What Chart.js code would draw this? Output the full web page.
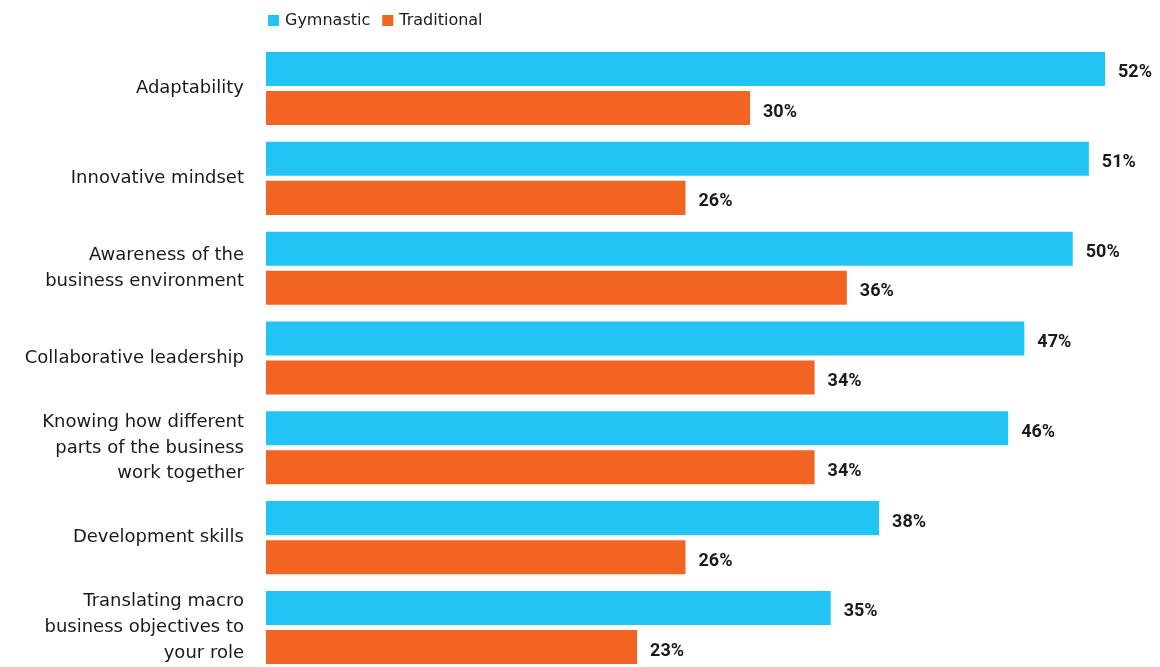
<!DOCTYPE html>
<html>
<head>
<meta charset="utf-8">
<script src="https://cdn.jsdelivr.net/npm/chart.js@4/dist/chart.umd.min.js"></script>
<style>
  html, body { margin: 0; padding: 0; background: #fff; overflow: hidden; }
  #wrap { position: relative; width: 1160px; height: 690px; }
</style>
</head>
<body>
<div id="wrap"><canvas id="skills-chart" width="1160" height="690"></canvas></div>
<script>
const categories = [
  'Adaptability',
  'Innovative mindset',
  ['Awareness of the', 'business environment'],
  'Collaborative leadership',
  ['Knowing how different', 'parts of the business', 'work together'],
  'Development skills',
  ['Translating macro', 'business objectives to', 'your role']
];
const gymnastic = [52, 51, 50, 47, 46, 38, 35];
const traditional = [30, 26, 36, 34, 34, 26, 23];
const seriesNames = ['Gymnastic', 'Traditional'];
const seriesColors = ['#21C4F3', '#F26422'];

// value labels at the end of each bar
const barLabels = {
  id: 'barLabels',
  afterDatasetsDraw(chart) {
    const ctx = chart.ctx;
    ctx.save();
    ctx.font = 'bold 18px Roboto';
    ctx.fillStyle = '#1a1a1a';
    ctx.textAlign = 'left';
    ctx.textBaseline = 'middle';
    chart.data.datasets.forEach((ds, i) => {
      chart.getDatasetMeta(i).data.forEach((bar, j) => {
        ctx.fillText(ds.data[j] + '%', bar.x + 13, bar.y + 4);
      });
    });
    ctx.restore();
  }
};

// small legend above the bars
const topLegend = {
  id: 'topLegend',
  afterDraw(chart) {
    const ctx = chart.ctx;
    let x = chart.chartArea.left + 2;
    ctx.save();
    ctx.font = '16px "DejaVu Sans"';
    ctx.textBaseline = 'middle';
    seriesNames.forEach((name, i) => {
      ctx.fillStyle = seriesColors[i];
      ctx.fillRect(x, 15, 11, 11);
      ctx.fillStyle = '#1a1a1a';
      ctx.fillText(name, x + 17, 21);
      x += 17 + ctx.measureText(name).width + 12;
    });
    ctx.restore();
  }
};

new Chart(document.getElementById('skills-chart'), {
  type: 'bar',
  data: {
    labels: categories,
    datasets: [
      { label: seriesNames[0], data: gymnastic, backgroundColor: seriesColors[0] },
      { label: seriesNames[1], data: traditional, backgroundColor: seriesColors[1] }
    ]
  },
  options: {
    indexAxis: 'y',
    responsive: false,
    animation: false,
    categoryPercentage: 0.869,
    barPercentage: 0.872,
    layout: { padding: { top: 43.6, bottom: 17.6, left: 0, right: 6.6 } },
    plugins: {
      legend: { display: false },
      tooltip: { enabled: false }
    },
    scales: {
      x: {
        display: false,
        min: 0,
        max: 55
      },
      y: {
        grid: { display: false, drawTicks: false },
        border: { display: false },
        ticks: {
          padding: 22,
          color: '#1a1a1a',
          font: { family: 'DejaVu Sans', size: 18, lineHeight: 1.44 }
        },
        afterFit(scale) {
          scale.width = 266;
          scale.paddingTop = 0;
          scale.paddingBottom = 0;
        }
      }
    }
  },
  plugins: [barLabels, topLegend]
});
</script>
</body>
</html>
